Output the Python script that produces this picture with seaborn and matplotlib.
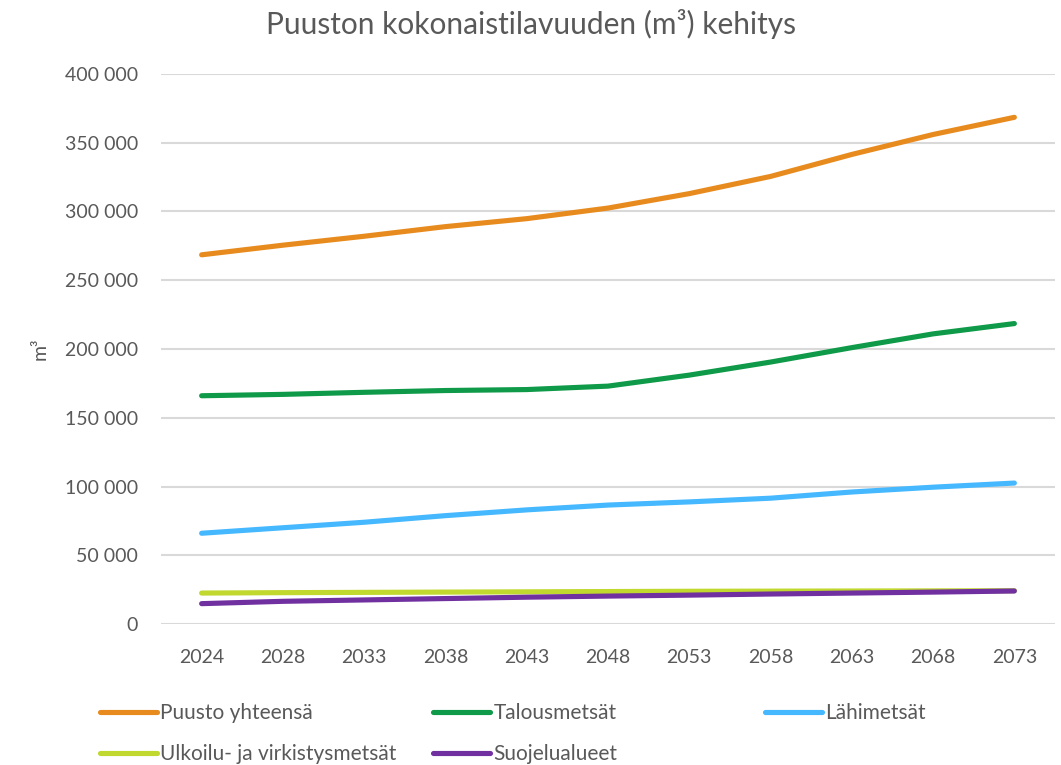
import numpy as np
import pandas as pd
import matplotlib
matplotlib.use("Agg")
import matplotlib.pyplot as plt
import seaborn as sns

# data (m3)
years = ["2024", "2028", "2033", "2038", "2043", "2048", "2053", "2058", "2063", "2068", "2073"]
puusto = [268500, 275500, 282000, 289000, 294800, 302500, 313000, 325500, 341500, 356000, 368500]
talous = [166000, 167000, 168500, 169800, 170500, 173000, 181000, 190500, 201000, 211000, 218500]
lahi = [66000, 70000, 74000, 78800, 83000, 86500, 88800, 91500, 96000, 99500, 102500]
ulkoilu = [22500, 22800, 23000, 23200, 23400, 23600, 23800, 23900, 24000, 24100, 24200]
suojelu = [14800, 16500, 17500, 18500, 19500, 20300, 21000, 21800, 22500, 23200, 24000]

series_names = ["Puusto yhteensä", "Talousmetsät", "Lähimetsät",
                "Ulkoilu- ja virkistysmetsät", "Suojelualueet"]
colors = ["#E88B1E", "#0E9A48", "#45B8FF", "#C1D82F", "#7030A0"]

df = pd.DataFrame({
    "Vuosi": years * 5,
    "Tilavuus": puusto + talous + lahi + ulkoilu + suojelu,
    "Sarja": np.repeat(series_names, len(years)),
})

sns.set_theme(style="white")
plt.rcParams["font.family"] = ["Lato", "DejaVu Sans"]
txt = "#595959"

fig = plt.figure(figsize=(10.61, 7.65), dpi=100)
ax = fig.add_axes([161 / 1061, 141 / 765, (1055 - 161) / 1061, (624 - 74) / 765])

sns.lineplot(data=df, x="Vuosi", y="Tilavuus", hue="Sarja", hue_order=series_names,
             palette=colors, linewidth=3.7, ax=ax, legend=False,
             solid_capstyle="round")

ax.set_xlim(-0.5, len(years) - 0.5)
ax.set_ylim(0, 400000)
ax.set_yticks(np.arange(0, 400001, 50000))
ax.set_yticklabels([f"{v:,}".replace(",", " ") for v in range(0, 400001, 50000)])
ax.yaxis.grid(True, color="#D9D9D9", linewidth=1.5)
ax.set_axisbelow(True)
for s in ax.spines.values():
    s.set_visible(False)
ax.tick_params(axis="y", length=0, pad=16.5, labelsize=14, labelcolor=txt)
ax.tick_params(axis="x", length=0, pad=18, labelsize=14, labelcolor=txt)
ax.set_xlabel("")
ax.set_ylabel("m³", fontsize=14, color=txt, labelpad=12)

fig.text(0.5, 1 - 24 / 765, "Puuston kokonaistilavuuden (m³) kehitys",
         ha="center", va="center", fontsize=21.5, color=txt)

# legend: three columns placed like the original
handles = [plt.Line2D([], [], color=c, linewidth=3.7, solid_capstyle="round") for c in colors]
cols = [([0, 3], 100), ([1, 4], 433), ([2], 765)]
for idx, xpx in cols:
    leg = fig.legend([handles[i] for i in idx], [series_names[i] for i in idx],
                     loc="upper left", bbox_to_anchor=(xpx / 1061, 1 - 703 / 765),
                     frameon=False, fontsize=15, handlelength=2.75, handletextpad=0.15,
                     labelspacing=1.0, borderaxespad=0, borderpad=0)
    for t in leg.get_texts():
        t.set_color(txt)

fig.savefig("out.png", dpi=100)
